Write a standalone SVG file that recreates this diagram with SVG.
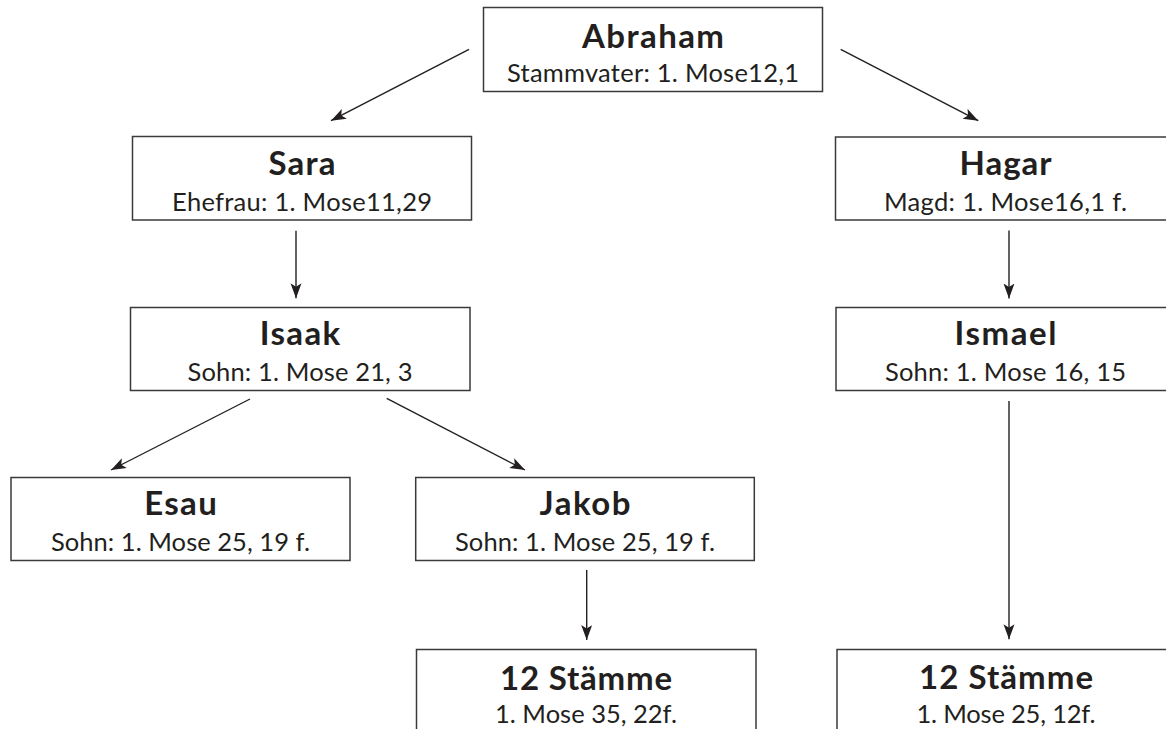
<svg xmlns="http://www.w3.org/2000/svg" width="1166" height="729" viewBox="0 0 1166 729">
<style>
.box{fill:#fff;stroke:#3a3a3a;stroke-width:1.5}
.t{font-family:Lato,"Liberation Sans",sans-serif;font-weight:bold;font-size:33px;fill:#231f20;text-anchor:middle}
.s{font-family:Lato,"Liberation Sans",sans-serif;font-size:25.5px;fill:#231f20;text-anchor:middle}
.c{stroke:#231f20;stroke-width:1.4;fill:none;marker-end:url(#ah)}
</style>
<defs>
<marker id="ah" markerUnits="userSpaceOnUse" markerWidth="17" markerHeight="13" refX="15" refY="5.5" orient="auto" viewBox="0 0 17 13">
<path d="M0,0 L15,5.5 L0,11 L3.5,5.5 z" fill="#231f20"/>
</marker>
</defs>
<rect width="1166" height="729" fill="#fff"/>
<g id="connectors">
<line class="c" x1="469" y1="49.3" x2="331" y2="120.7"/>
<line class="c" x1="840.7" y1="49.3" x2="978.3" y2="120.7"/>
<line class="c" x1="296" y1="230.7" x2="296" y2="298.3"/>
<line class="c" x1="1009" y1="230.5" x2="1009" y2="298.5"/>
<line class="c" x1="250" y1="399" x2="111" y2="470"/>
<line class="c" x1="386.7" y1="398.3" x2="525" y2="470"/>
<line class="c" x1="586.7" y1="570" x2="586.7" y2="640"/>
<line class="c" x1="1009" y1="401" x2="1009" y2="639.3"/>
</g>
<g id="abraham">
<rect class="box" x="483.5" y="7.5" width="339" height="84"/>
<text class="t" x="653" y="48" textLength="142">Abraham</text>
<text class="s" x="653" y="81.7" textLength="292">Stammvater: 1. Mose12,1</text>
</g>
<g id="sara">
<rect class="box" x="132.5" y="136.5" width="339" height="83.5"/>
<text class="t" x="302" y="175" textLength="67">Sara</text>
<text class="s" x="302" y="210.7" textLength="260">Ehefrau: 1. Mose11,29</text>
</g>
<g id="hagar">
<rect class="box" x="835.5" y="137" width="340" height="83"/>
<text class="t" x="1005.5" y="175" textLength="92">Hagar</text>
<text class="s" x="1005.5" y="210.7" textLength="243">Magd: 1. Mose16,1 f.</text>
</g>
<g id="isaak">
<rect class="box" x="130.5" y="307.5" width="339.5" height="83"/>
<text class="t" x="300" y="345" textLength="80.5">Isaak</text>
<text class="s" x="300" y="380.7" textLength="225">Sohn: 1. Mose 21, 3</text>
</g>
<g id="ismael">
<rect class="box" x="836" y="307.5" width="340" height="83"/>
<text class="t" x="1005.5" y="345" textLength="102">Ismael</text>
<text class="s" x="1005.5" y="380.7" textLength="241">Sohn: 1. Mose 16, 15</text>
</g>
<g id="esau">
<rect class="box" x="11" y="477.5" width="339" height="83"/>
<text class="t" x="180.5" y="515" textLength="72.5">Esau</text>
<text class="s" x="180.5" y="550.7" textLength="259">Sohn: 1. Mose 25, 19 f.</text>
</g>
<g id="jakob">
<rect class="box" x="415.7" y="477.5" width="338.6" height="83"/>
<text class="t" x="585" y="515" textLength="91">Jakob</text>
<text class="s" x="585" y="550.7" textLength="260">Sohn: 1. Mose 25, 19 f.</text>
</g>
<g id="staemme-jakob">
<rect class="box" x="416.5" y="649.5" width="339.5" height="100"/>
<text class="t" x="586" y="690" textLength="172">12 Stämme</text>
<text class="s" x="586" y="723.3" textLength="182">1. Mose 35, 22f.</text>
</g>
<g id="staemme-ismael">
<rect class="box" x="837" y="649.5" width="340" height="100"/>
<text class="t" x="1006" y="689" textLength="174">12 Stämme</text>
<text class="s" x="1006" y="722.5" textLength="179">1. Mose 25, 12f.</text>
</g>
</svg>
